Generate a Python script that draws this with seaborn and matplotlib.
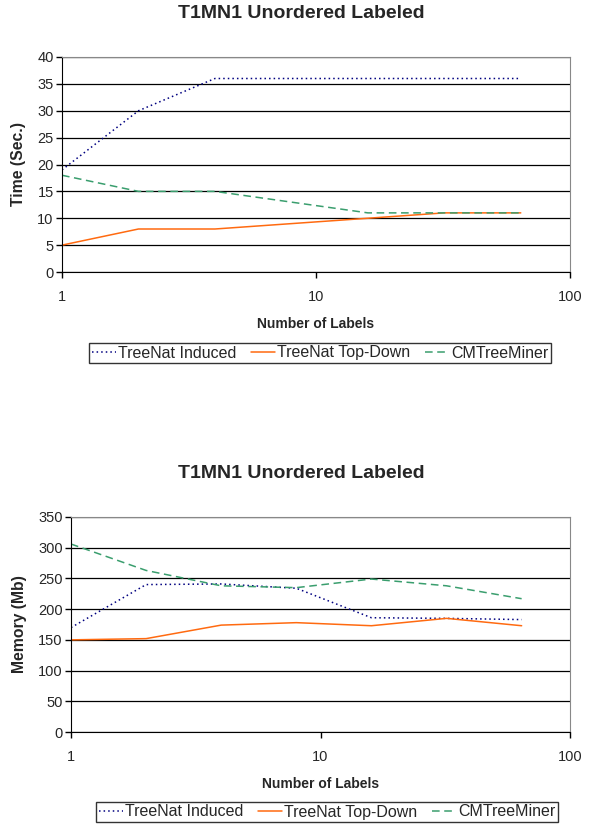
import numpy as np
import pandas as pd
import seaborn as sns
import matplotlib
matplotlib.use('Agg')
import matplotlib.pyplot as plt
from matplotlib.ticker import FixedLocator, NullLocator, FixedFormatter

# number of labels on the x axis (log scale)
labels = [1, 2, 4, 8, 16, 32, 64]

# time in seconds
time_induced = [19, 30, 36, 36, 36, 36, 36]
time_topdown = [5, 8, 8, 9, 10, 11, 11]
time_cmtree = [18, 15, 15, 13, 11, 11, 11]

# memory in Mb
mem_induced = [170, 240, 241, 234, 186, 185, 183]
mem_topdown = [150, 152, 174, 178, 173, 185, 173]
mem_cmtree = [306, 263, 238, 235, 249, 238, 217]

series_names = ['TreeNat Induced', 'TreeNat Top-Down', 'CMTreeMiner']
colors = ['#000080', '#FF6A10', '#3A9E6E']
styles = [(0, (1, 2)), '-', (0, (5, 3))]

sns.set_style('white')
plt.rcParams['font.family'] = ['Liberation Sans', 'DejaVu Sans']

fig = plt.figure(figsize=(6.01, 8.26), dpi=100)
W, H = 601, 826


def add_axes(left, right, top, bottom):
    return fig.add_axes([left / W, 1 - bottom / H, (right - left) / W, (bottom - top) / H])


def draw(ax, ys, ymax, ystep, ylabel, title, leg_xy):
    for name, y, c, ls in zip(series_names, ys, colors, styles):
        df = pd.DataFrame({'x': labels, 'y': y})
        sns.lineplot(data=df, x='x', y='y', ax=ax, color=c, linewidth=1.1,
                     linestyle=ls, label=name, legend=False)
    ax.set_xscale('log')
    ax.set_xlim(1, 100)
    ax.set_ylim(0, ymax)
    ax.xaxis.set_major_locator(FixedLocator([1, 10, 100]))
    ax.xaxis.set_major_formatter(FixedFormatter(['1', '10', '100']))
    ax.xaxis.set_minor_locator(NullLocator())
    ax.set_yticks(np.arange(0, ymax + 1, ystep))
    ax.yaxis.grid(True, color='black', linewidth=0.9)
    ax.xaxis.grid(False)
    ax.set_axisbelow(True)
    for s in ['top', 'right']:
        ax.spines[s].set_color('#888888')
    for s in ['left', 'bottom']:
        ax.spines[s].set_color('black')
    ax.tick_params(axis='both', which='major', direction='out', length=4,
                   width=1, color='black', labelsize=10.5, pad=2, left=True, bottom=True)
    ax.tick_params(axis='x', pad=9)
    ax.set_xlabel('Number of Labels', fontsize=10, fontweight='bold', labelpad=9)
    ax.set_ylabel(ylabel, fontsize=11.3, fontweight='bold', labelpad=8)
    handles, lbls = ax.get_legend_handles_labels()
    leg = fig.legend(handles, lbls, loc='center', bbox_to_anchor=(leg_xy[0] / W, 1 - leg_xy[1] / H),
                     ncol=3, fontsize=11.5, frameon=True, fancybox=False, borderpad=0.15,
                     handlelength=1.5, handletextpad=0.15, columnspacing=0.9, borderaxespad=0)
    leg.get_frame().set_edgecolor('black')
    leg.get_frame().set_linewidth(1.0)
    fig.text((leg_xy[2]) / W, 1 - leg_xy[3] / H, title, ha='center', va='center',
             fontsize=14, fontweight='bold')


ax1 = add_axes(62, 570, 57, 272)
draw(ax1, [time_induced, time_topdown, time_cmtree], 40, 5, 'Time (Sec.)',
     'T1MN1 Unordered Labeled', (320, 353, 301, 14))

ax2 = add_axes(71, 570, 517, 732)
draw(ax2, [mem_induced, mem_topdown, mem_cmtree], 350, 50, 'Memory (Mb)',
     'T1MN1 Unordered Labeled', (327, 812, 301, 474))

fig.savefig('out.png', dpi=100)
